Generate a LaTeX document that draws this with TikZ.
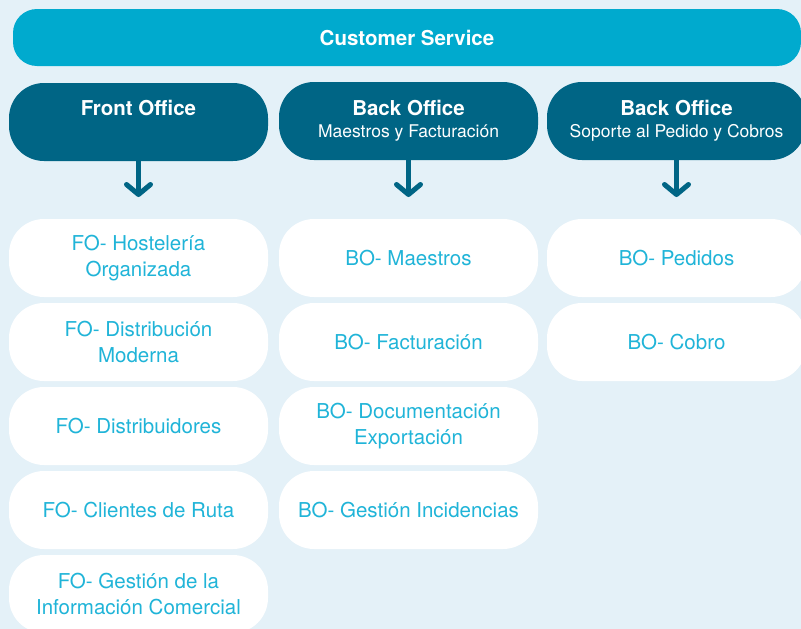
\documentclass[tikz,border=0pt]{standalone}
\usepackage{fontspec}
\setmainfont{TeX Gyre Heros}
\usetikzlibrary{arrows.meta}
\definecolor{cspale}{RGB}{228,241,248}
\definecolor{cscyan}{RGB}{0,170,206}
\definecolor{csdark}{RGB}{0,101,133}
\definecolor{cstext}{RGB}{32,180,216}
\newcommand{\officetitle}[1]{{\fontsize{20.5}{22}\selectfont\bfseries #1}}

\begin{document}
\begin{tikzpicture}[
  x=1pt,y=-1pt,
  topbar/.style={fill=cscyan,rounded corners=24pt,minimum width=788pt,minimum height=57pt,
    text=white,font=\fontsize{20.5}{24}\selectfont\bfseries},
  office/.style={fill=csdark,rounded corners=35pt,minimum width=259pt,minimum height=78pt,
    text=white,align=center,font=\fontsize{17.5}{22}\selectfont},
  task/.style={fill=white,rounded corners=35pt,minimum width=259pt,minimum height=78pt,
    text=cstext,align=center,font=\fontsize{20.5}{26}\selectfont},
  pointer/.style={-{Straight Barb[length=10pt,width=24pt,round]},line width=5pt,csdark}
]
  \clip (0,0) rectangle (801,629);
  \fill[cspale] (0,0) rectangle (801,629);

  \node[topbar] (cs) at (407,37.5) {Customer Service};

  \node[office] (fo) at (138.5,122) {\officetitle{Front Office}\\[6pt]\mbox{}};
  \node[office] (bm) at (408.5,121) {\officetitle{Back Office}\\Maestros y Facturación};
  \node[office] (bp) at (676.5,121) {\officetitle{Back Office}\\Soporte al Pedido y Cobros};

  \coordinate (fo-tip) at (138.5,197);
  \coordinate (bm-tip) at (408.5,197);
  \coordinate (bp-tip) at (676.5,197);
  \draw[pointer] (fo.south) -- (fo-tip);
  \draw[pointer] (bm.south) -- (bm-tip);
  \draw[pointer] (bp.south) -- (bp-tip);

  % front office
  \node[task] (fo1) at (138.5,258) {FO- Hostelería\\Organizada};
  \node[task] (fo2) at (138.5,342) {FO- Distribución\\Moderna};
  \node[task] (fo3) at (138.5,426) {FO- Distribuidores};
  \node[task] (fo4) at (138.5,510) {FO- Clientes de Ruta};
  \node[task] (fo5) at (138.5,594) {FO- Gestión de la\\Información Comercial};

  % back office, maestros
  \node[task] (bm1) at (408.5,258) {BO- Maestros};
  \node[task] (bm2) at (408.5,342) {BO- Facturación};
  \node[task] (bm3) at (408.5,426) {BO- Documentación\\Exportación};
  \node[task] (bm4) at (408.5,510) {BO- Gestión Incidencias};

  % back office, pedidos
  \node[task] (bp1) at (676.5,258) {BO- Pedidos};
  \node[task] (bp2) at (676.5,342) {BO- Cobro};
\end{tikzpicture}
\end{document}
